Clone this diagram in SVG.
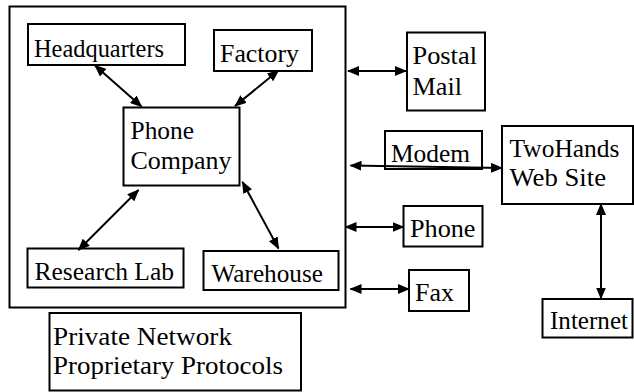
<svg xmlns="http://www.w3.org/2000/svg" width="634" height="392" viewBox="0 0 634 392">
<style>
.box{fill:#fff;stroke:#000;stroke-width:2}
text{font-size:26px;fill:#000}
.c{stroke:#000;stroke-width:2;fill:none;marker-start:url(#ah);marker-end:url(#ah)}
</style>
<defs>
<marker id="ah" viewBox="0 0 12 10" refX="11" refY="5" markerWidth="12" markerHeight="10" markerUnits="userSpaceOnUse" orient="auto-start-reverse">
<path d="M0,0 L12,5 L0,10 z" fill="#000"/>
</marker>
</defs>
<g font-family="Liberation Serif, DejaVu Serif, serif">
<g id="private-network">
<rect class="box" x="9.5" y="6.5" width="336" height="301"/>
</g>
<g id="headquarters">
<rect class="box" x="28" y="24" width="157" height="41"/>
<text x="34" y="56.5" textLength="130" lengthAdjust="spacingAndGlyphs">Headquarters</text>
</g>
<g id="factory">
<rect class="box" x="214" y="30" width="98" height="41"/>
<text x="220" y="61.5" textLength="79" lengthAdjust="spacingAndGlyphs">Factory</text>
</g>
<g id="phone-company">
<rect class="box" x="123.5" y="107.5" width="116" height="78"/>
<text x="130.5" y="138.5" textLength="63.5" lengthAdjust="spacingAndGlyphs">Phone</text>
<text x="130.5" y="169" textLength="101" lengthAdjust="spacingAndGlyphs">Company</text>
</g>
<g id="research-lab">
<rect class="box" x="27.5" y="248.5" width="156" height="39"/>
<text x="34.5" y="279.5" textLength="139.5" lengthAdjust="spacingAndGlyphs">Research Lab</text>
</g>
<g id="warehouse">
<rect class="box" x="203.5" y="251" width="135" height="39"/>
<text x="211.5" y="281.5" textLength="111.5" lengthAdjust="spacingAndGlyphs">Warehouse</text>
</g>
<g id="legend">
<rect class="box" x="49.5" y="313" width="251.5" height="77.5"/>
<text x="53" y="345" textLength="179" lengthAdjust="spacingAndGlyphs">Private Network</text>
<text x="53" y="374" textLength="230" lengthAdjust="spacingAndGlyphs">Proprietary Protocols</text>
</g>
<g id="postal-mail">
<rect class="box" x="407" y="32.5" width="78" height="78"/>
<text x="412.5" y="63.5" textLength="64.5" lengthAdjust="spacingAndGlyphs">Postal</text>
<text x="412.5" y="94.5" textLength="49.5" lengthAdjust="spacingAndGlyphs">Mail</text>
</g>
<g id="modem">
<rect class="box" x="385" y="131" width="97" height="38"/>
<text x="391" y="161.5" textLength="79" lengthAdjust="spacingAndGlyphs">Modem</text>
</g>
<g id="twohands-web-site">
<rect class="box" x="502" y="126" width="131" height="78"/>
<text x="509.5" y="156.5" textLength="110" lengthAdjust="spacingAndGlyphs">TwoHands</text>
<text x="509.5" y="185.5" textLength="96.5" lengthAdjust="spacingAndGlyphs">Web Site</text>
</g>
<g id="phone">
<rect class="box" x="403.5" y="206" width="79" height="40.5"/>
<text x="410" y="236.5" textLength="65.5" lengthAdjust="spacingAndGlyphs">Phone</text>
</g>
<g id="fax">
<rect class="box" x="409" y="270" width="60" height="41"/>
<text x="415" y="300.5" textLength="39" lengthAdjust="spacingAndGlyphs">Fax</text>
</g>
<g id="internet">
<rect class="box" x="542.5" y="299" width="90" height="38.5"/>
<text x="550" y="329" textLength="78" lengthAdjust="spacingAndGlyphs">Internet</text>
</g>
</g>
<g id="connectors">
<line class="c" x1="95" y1="65.5" x2="141.5" y2="106.5"/>
<line class="c" x1="278.5" y1="70.5" x2="235" y2="106"/>
<line class="c" x1="138.5" y1="190" x2="78.5" y2="250"/>
<line class="c" x1="242.5" y1="182" x2="278.5" y2="248.5"/>
<line class="c" x1="348" y1="71" x2="406" y2="71"/>
<line class="c" x1="350.5" y1="165.5" x2="502" y2="168"/>
<line class="c" x1="345.5" y1="227" x2="403.5" y2="227"/>
<line class="c" x1="350.5" y1="289" x2="409" y2="289"/>
<line class="c" x1="601" y1="204" x2="601" y2="298.5"/>
</g>
</svg>
